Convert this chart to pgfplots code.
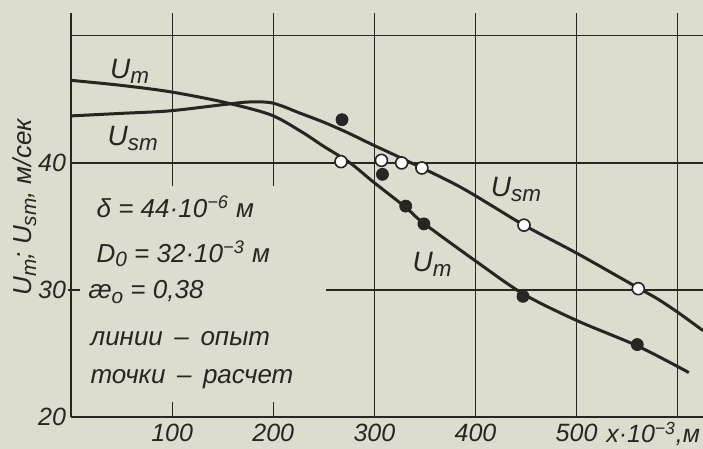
\documentclass[border=0pt]{standalone}
\usepackage{fontspec}
\setmainfont{Liberation Sans}
\usepackage{graphicx}
\usepackage{pgfplots}
\pgfplotsset{compat=1.18}
\definecolor{paper}{RGB}{221,220,206}
\definecolor{ink}{RGB}{38,38,36}
\newcommand{\sub}[1]{\raisebox{-0.35ex}{\scalebox{0.8}{#1}}}
\newcommand{\lab}[1]{\fontsize{14}{16}\selectfont\itshape #1}

\pgfplotstableread{
x y
0 46.5
50 46.1
98 45.6
150 44.8
197 43.8
227 42.5
250 41.3
276 40.0
299 38.5
331 36.5
348 35.3
398 32.4
447 29.7
500 27.6
560 25.6
611 23.5
}\Umline

\pgfplotstableread{
x y
0 43.7
50 43.9
98 44.1
152 44.6
177 44.8
200 44.7
227 43.9
250 43.2
273 42.4
299 41.4
326 40.4
385 38.1
448 35.1
500 32.9
560 30.2
580 29.3
599 28.3
613 27.5
625 26.8
}\Usmline

\pgfplotstableread{
x y
268 43.4
308 39.1
331 36.6
349 35.2
447 29.5
560 25.7
}\Umpts

\pgfplotstableread{
x y
267 40.1
307 40.2
327 40.0
347 39.6
448 35.1
561 30.1
}\Usmpts

\begin{document}
\begin{tikzpicture}
\path[use as bounding box, fill=paper] (-35.5pt,-16pt) rectangle (316pt,208.5pt);
\begin{axis}[
  at={(0pt,0pt)}, anchor=south west,
  scale only axis,
  width=316pt, height=202pt,
  xmin=0, xmax=625, ymin=20, ymax=51.8,
  axis x line=bottom, axis y line=left,
  axis line style={-, draw=ink, line width=0.75pt},
  xtick={100,200,300,400,500}, ytick={20,30,40},
  major tick length=0pt,
  tick style={draw=none},
  /pgf/number format/assume math mode=true,
  ticklabel style={font=\fontsize{12.5}{14}\selectfont\itshape, text=ink},
  yticklabel style={xshift=1pt},
  clip=false,
]
% grid lines
\draw[ink, line width=0.6pt] (axis cs:300,20) -- (axis cs:300,51.8);
\draw[ink, line width=0.6pt] (axis cs:400,20) -- (axis cs:400,51.8);
\draw[ink, line width=0.6pt] (axis cs:500,20) -- (axis cs:500,51.8);
\draw[ink, line width=0.6pt] (axis cs:600,20) -- (axis cs:600,51.8);
\draw[ink, line width=0.6pt] (axis cs:100,38.2) -- (axis cs:100,51.8);
\draw[ink, line width=0.6pt] (axis cs:200,38.2) -- (axis cs:200,51.8);
\draw[ink, line width=0.6pt] (axis cs:100,20) -- (axis cs:100,21.2);
\draw[ink, line width=0.6pt] (axis cs:200,20) -- (axis cs:200,21.2);
\draw[ink, line width=0.6pt] (axis cs:0,50) -- (axis cs:625,50);
\draw[ink, line width=0.6pt] (axis cs:0,40) -- (axis cs:625,40);
\draw[ink, line width=0.6pt] (axis cs:252,30) -- (axis cs:625,30);
\draw[ink, line width=0.6pt] ([xshift=-1.5pt]axis cs:0,30) -- ([xshift=4.5pt]axis cs:0,30);

% experimental lines
\addplot[smooth, draw=ink, line width=1.5pt] table {\Umline};
\addplot[smooth, draw=ink, line width=1.5pt] table {\Usmline};
% calculated points
\addplot[only marks, mark=*, mark size=3pt, mark options={fill=ink, draw=ink}] table {\Umpts};
\addplot[only marks, mark=*, mark size=3pt, mark options={fill=white, draw=ink, line width=0.8pt}] table {\Usmpts};

% curve labels
\node[text=ink] at (axis cs:58,47.2) {\lab{U\sub{m}}};
\node[text=ink] at (axis cs:61,41.9) {\lab{U\sub{sm}}};
\node[text=ink] at (axis cs:440,37.9) {\lab{U\sub{sm}}};
\node[text=ink] at (axis cs:357,32.0) {\lab{U\sub{m}}};

% annotation block
\begin{scope}[every node/.style={anchor=base west, text=ink, inner sep=0pt, font=\fontsize{13}{15}\selectfont\itshape}]
\node at (axis cs:25,35.7) {δ = 44·10\textsuperscript{−6} м};
\node at (axis cs:25,32.2) {D\sub{0} = 32·10\textsuperscript{−3} м};
\node at (axis cs:17,29.3) {æ\sub{o} = 0,38};
\node at (axis cs:19,25.6) {линии \,–\, опыт};
\node at (axis cs:19,22.6) {точки \,–\, расчет};
\end{scope}

% axis labels
\node[rotate=90, text=ink, font=\fontsize{13}{15}\selectfont\itshape] at (axis cs:-46,36.5) {U\sub{m}; U\sub{sm}, м/сек};
\node[anchor=base west, text=ink, inner sep=0pt, font=\fontsize{12.5}{14}\selectfont\itshape] at ([yshift=-13pt]axis cs:529,20) {x·10\textsuperscript{−3},м};
\end{axis}
\end{tikzpicture}
\end{document}
